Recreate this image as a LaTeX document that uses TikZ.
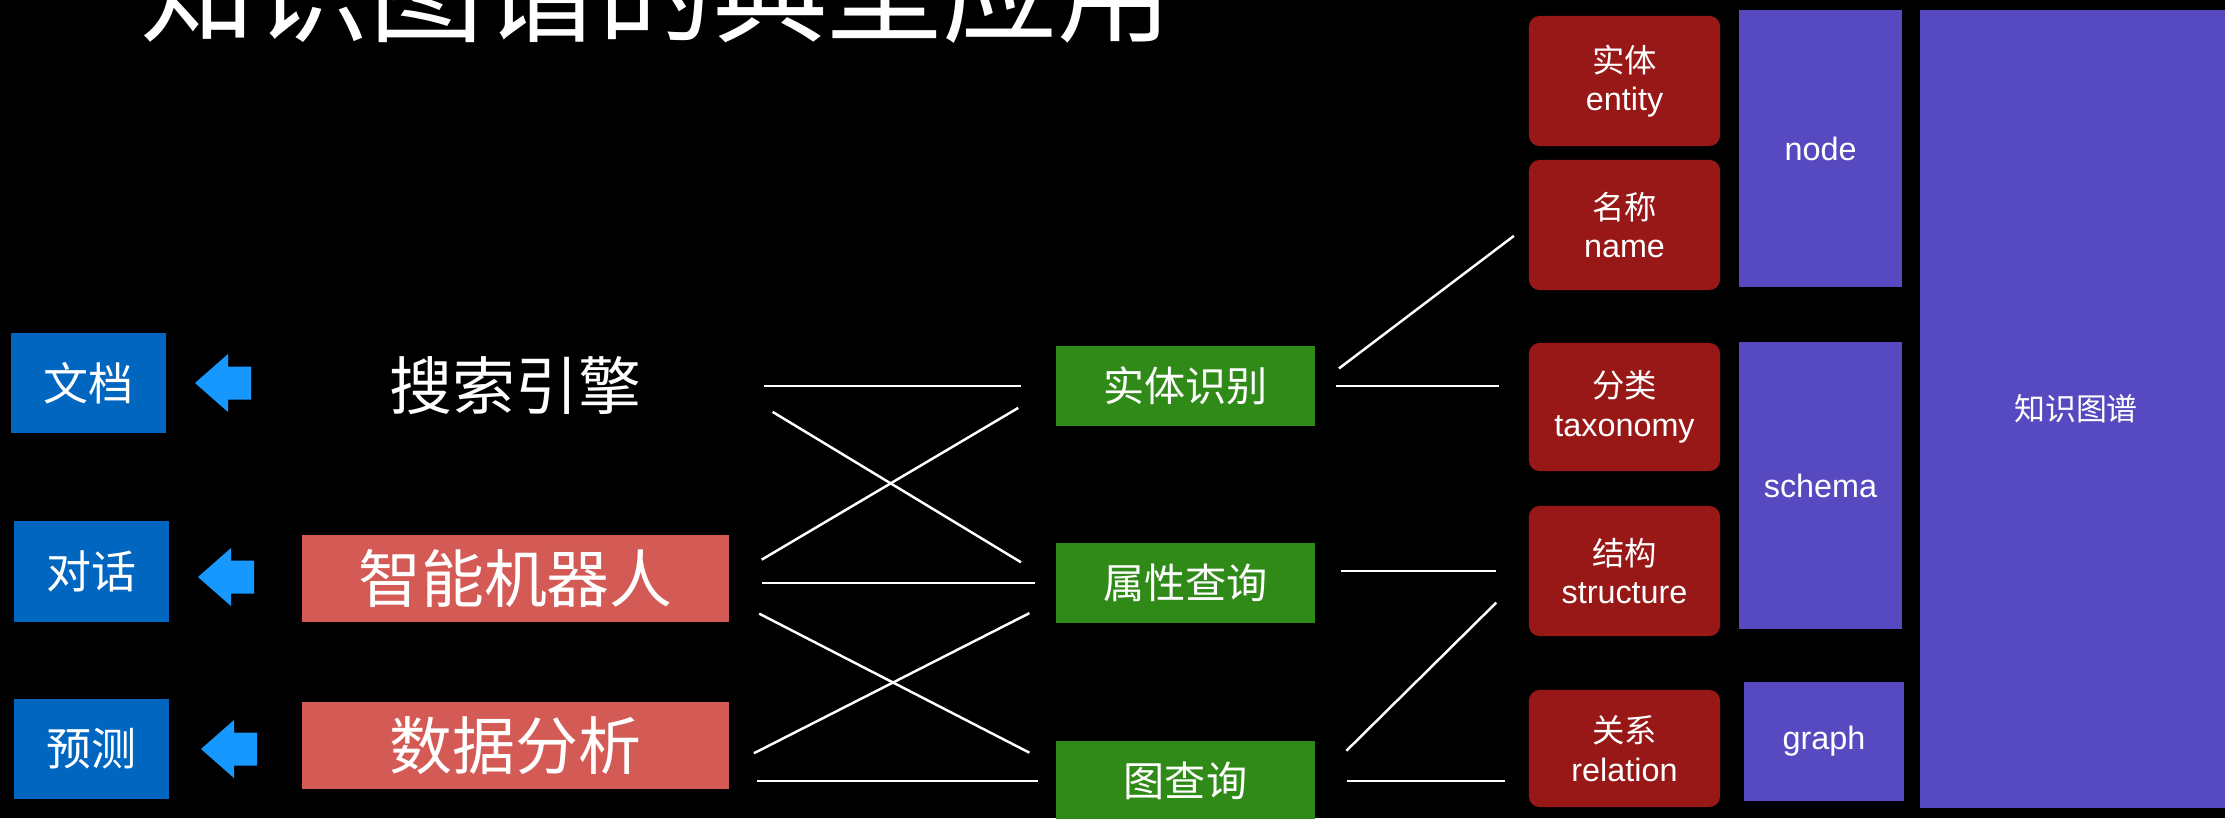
\documentclass[tikz,border=0pt]{standalone}
\usepackage{fontspec}
\setmainfont{Liberation Sans}
\newfontfamily\cjk{Noto Sans CJK SC}

\definecolor{docblue}{RGB}{0,102,192}
\definecolor{arrowblue}{RGB}{23,152,255}
\definecolor{appred}{RGB}{212,90,85}
\definecolor{taskgreen}{RGB}{47,138,24}
\definecolor{elemred}{RGB}{152,24,24}
\definecolor{kgpurple}{RGB}{87,74,192}

\begin{document}
\begin{tikzpicture}[
    x=0.01cm, y=-0.01cm,
    title/.style={text=white, font=\cjk\fontsize{32.6}{36}\selectfont},
    usecase/.style={rectangle, fill=docblue, text=white, minimum width=1.55cm, minimum height=1.0cm, font=\cjk\fontsize{12.8}{14}\selectfont},
    app/.style={rectangle, text=white, minimum width=4.27cm, minimum height=0.87cm, font=\cjk\fontsize{17.9}{20}\selectfont},
    task/.style={rectangle, fill=taskgreen, text=white, minimum width=2.59cm, minimum height=0.8cm, font=\cjk\fontsize{11.7}{13}\selectfont},
    element/.style={rectangle, fill=elemred, text=white, rounded corners=3pt, minimum width=1.91cm, minimum height=1.3cm, align=center, font=\fontsize{9.2}{11}\selectfont},
    part/.style={rectangle, fill=kgpurple, text=white, minimum width=1.63cm, align=center, font=\fontsize{9.2}{11}\selectfont},
    link/.style={white, line width=0.7pt},
    pointer/.style={fill=arrowblue}
]

\useasboundingbox (0,0) rectangle (2225,818);
\clip (0,0) rectangle (2225,818);
\fill[black] (0,0) rectangle (2225,818);

% Title (cut at the top)
\node[title, anchor=base] (title) at (656,34) {知识图谱的典型应用};

% Use cases
\node[usecase] (doc) at (88.5,383) {文档};
\node[usecase] (dialog) at (91.5,571.5) {对话};
\node[usecase] (forecast) at (91.5,749) {预测};

% Blue arrows
\foreach \tx/\ty in {195/383, 198/577, 201/749}
  \fill[pointer] (\tx,\ty) -- ++(33,-29) -- ++(0,12.5) -- ++(23,0) -- ++(0,33) -- ++(-23,0) -- ++(0,12.5) -- cycle;

% Applications
\node[app] (search) at (515.5,386) {搜索引擎};
\node[app, fill=appred] (robot) at (515.5,578.5) {智能机器人};
\node[app, fill=appred] (analysis) at (515.5,745.5) {数据分析};

% Tasks
\node[task] (ner) at (1185.5,386) {实体识别};
\node[task] (attr) at (1185.5,583) {属性查询};
\node[task] (graphq) at (1185.5,781) {图查询};

% Elements
\node[element] (entity) at (1624.5,81) {{\cjk 实体}\\entity};
\node[element] (name) at (1624.5,225) {{\cjk 名称}\\name};
\node[element, minimum height=1.28cm] (taxonomy) at (1624.5,407) {{\cjk 分类}\\taxonomy};
\node[element] (structure) at (1624.5,571) {{\cjk 结构}\\structure};
\node[element, minimum height=1.17cm] (relation) at (1624.5,748.5) {{\cjk 关系}\\relation};

% Parts of the graph
\node[part, minimum height=2.77cm] (nodepart) at (1820.5,148.5) {node};
\node[part, minimum height=2.87cm] (schema) at (1820.5,485.5) {schema};
\node[part, minimum width=1.6cm, minimum height=1.19cm] (graph) at (1824,741.5) {graph};
\node[part, minimum width=3.12cm, minimum height=7.98cm, font=\cjk\fontsize{8.8}{10}\selectfont] (kg) at (2076,409) {知识图谱};

% Applications to tasks
\draw[link, shorten <=0.34cm, shorten >=0.34cm] (search.east) -- (ner.west);
\draw[link, shorten <=0.5cm, shorten >=0.4cm] (search.east) -- (attr.west);
\draw[link, shorten <=0.37cm, shorten >=0.43cm] (robot.east) -- (ner.west);
\draw[link, shorten <=0.32cm, shorten >=0.2cm] (robot.east |- attr.west) -- (attr.west);
\draw[link, shorten <=0.33cm, shorten >=0.29cm] ([yshift=-0.2cm]robot.east) -- ([yshift=0.15cm]graphq.west);
\draw[link, shorten <=0.27cm, shorten >=0.29cm] ([yshift=-0.2cm]analysis.east) -- ([yshift=-0.17cm]attr.west);
\draw[link, shorten <=0.27cm, shorten >=0.17cm] (analysis.east |- graphq.west) -- (graphq.west);

% Tasks to elements
\draw[link, shorten <=0.29cm, shorten >=0.18cm] (ner.east) -- (name.west);
\draw[link, shorten <=0.2cm, shorten >=0.29cm] (ner.east) -- (ner.east -| taxonomy.west);
\draw[link, shorten <=0.25cm, shorten >=0.32cm] (structure.west -| attr.east) -- (structure.west);
\draw[link, shorten <=0.43cm, shorten >=0.45cm] (graphq.east) -- (structure.west);
\draw[link, shorten <=0.31cm, shorten >=0.23cm] (graphq.east) -- (graphq.east -| relation.west);

\end{tikzpicture}
\end{document}
